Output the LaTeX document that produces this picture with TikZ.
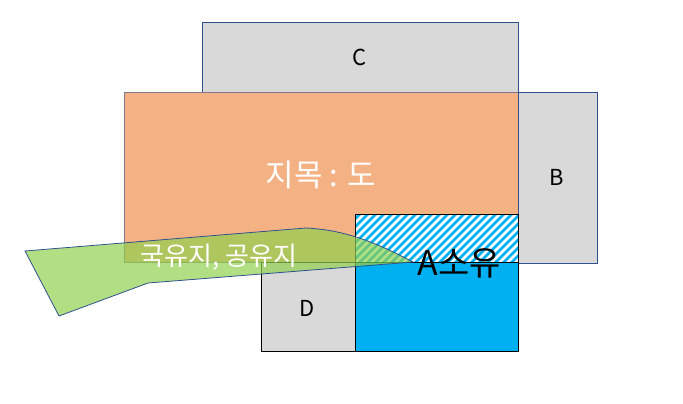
\documentclass[tikz,border=0pt]{standalone}
\usepackage{fontspec}
\setmainfont{Noto Sans CJK KR}
\newfontfamily\kr{Noto Sans CJK KR}
\definecolor{gry}{HTML}{D9D9D9}
\definecolor{edge}{HTML}{2F528F}
\definecolor{orng}{HTML}{F4B183}
\definecolor{sky}{HTML}{00B0F0}
\definecolor{grn}{HTML}{92D050}
\tikzset{
  graybox/.style={fill=gry, draw=edge, line width=0.8pt},
  blackbox/.style={draw=black, line width=1pt},
  lbl/.style={font=\kr\fontsize{22}{24}\selectfont, text=black},
}
\begin{document}
\begin{tikzpicture}[x=1pt,y=-1pt]
\useasboundingbox (0,0) rectangle (683,404);
% C
\path[graybox] (202,22) rectangle (518,92);
% orange land
\path[fill=orng, draw=edge!60!orng, line width=0.6pt] (124,92) rectangle (518,262);
% B
\path[graybox] (518,92) rectangle (597,263);
% hatched part
\fill[sky] (355,214) rectangle (518,262);
\begin{scope}
\clip (355,214) rectangle (518,262);
\foreach \i in {0,...,30}{
  \draw[white, line width=2.6pt] (300+\i*8,270) -- (300+\i*8+60,210);
}
\end{scope}
\draw[blackbox] (355,214) rectangle (518,262);
% A
\path[fill=sky, blackbox] (355,262) rectangle (518,351);
% D
\path[fill=gry, blackbox] (261,262) rectangle (355,351);
% green strip
\path[fill=grn, fill opacity=0.7, draw=edge, line width=0.8pt]
  (25,251) -- (306,228) .. controls (345,230) and (375,242) .. (413,262)
  -- (148,283) -- (59,316) -- cycle;
% labels
\node[lbl] (c) at (360,57) {C};
\node[lbl] (b) at (557,177) {B};
\node[lbl] (d) at (307,308) {D};
\node[font=\kr\fontsize{31}{34}\selectfont, text=white] (jimok) at (321,175) {지목 : 도};
\node[font=\kr\fontsize{26}{28}\selectfont, text=white] (gug) at (219,257) {국유지, 공유지};
\node[font=\kr\fontsize{34}{36}\selectfont, text=black] (a) at (459,263) {A소유};
\end{tikzpicture}
\end{document}
